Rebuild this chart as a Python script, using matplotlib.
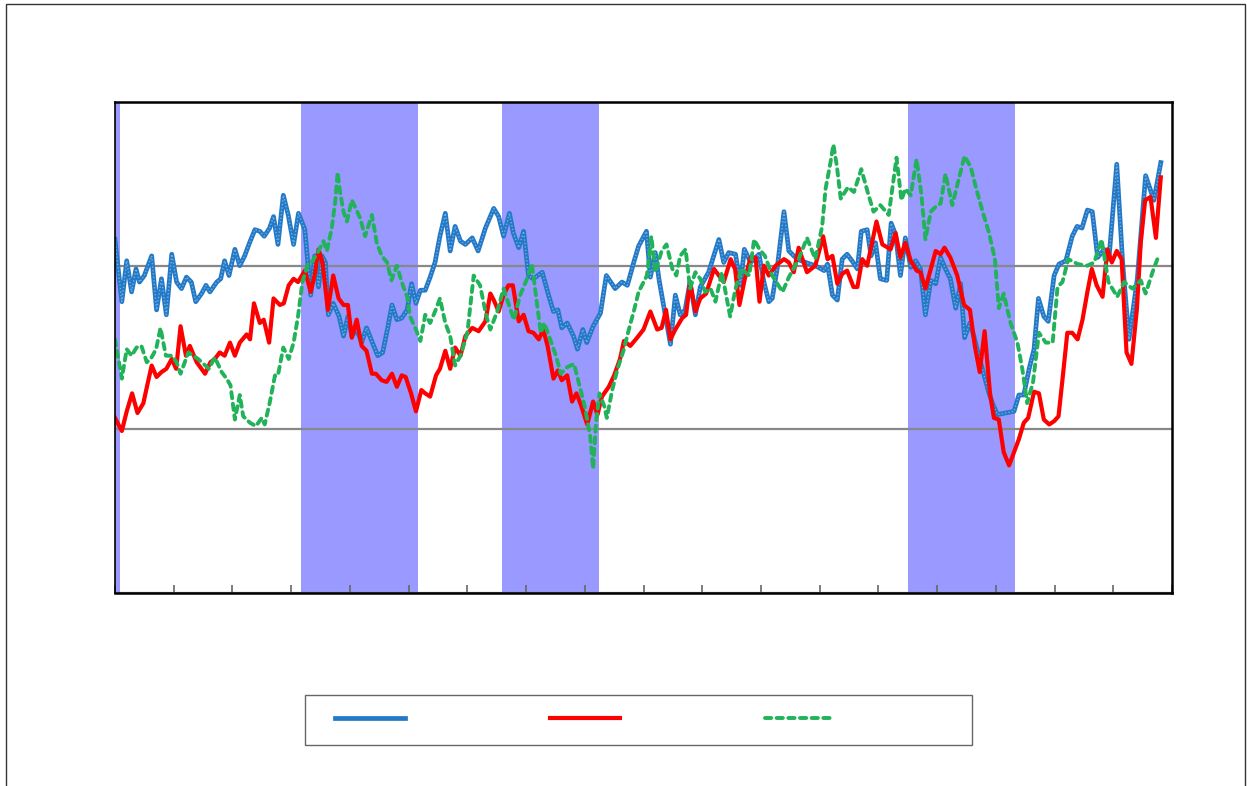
import matplotlib
matplotlib.use("Agg")
import matplotlib.pyplot as plt
from matplotlib.lines import Line2D
from matplotlib.patches import Rectangle

# months since start of the series
blue = [(0, 11.6), (1.4, 7.8), (2.4, 10.3), (3.4, 8.4), (4.3, 9.8), (5, 9.0), (6, 9.4), (7.5, 10.6), (8.5, 7.3),
        (9.5, 9.2), (10.5, 7.0), (11.6, 10.7), (12.6, 9.0), (13.6, 8.6), (14.6, 9.3), (15.6, 9.0), (16.5, 7.8),
        (17.7, 8.3), (18.6, 8.8), (19.4, 8.4), (20.8, 9.0), (21.6, 9.2), (22.4, 10.3), (23.3, 9.4), (24.5, 11.0),
        (25.5, 10.0), (26.5, 10.6), (27.5, 11.4), (28.6, 12.2), (29.6, 12.1), (30.5, 11.8), (31.6, 12.3),
        (32.4, 13.0), (33.3, 11.3), (34.4, 14.3), (35.4, 13.1),
        (36.5, 11.3), (37.5, 13.2), (38.8, 12.2), (40, 8.2), (40.8, 10.6), (41.6, 8.7), (42.3, 10.6), (43, 10.2),
        (43.6, 7.0), (44.6, 7.7), (45.8, 6.9), (46.7, 5.7), (47.6, 6.9), (48.4, 5.7), (49.4, 6.1), (50.4, 5.3),
        (51.4, 6.2), (52.6, 5.3), (53.7, 4.5), (54.7, 4.7), (55.8, 6.3), (56.6, 7.6), (57.6, 6.7), (58.6, 6.8),
        (59.7, 7.3), (60.6, 8.9), (61.5, 7.7), (62.4, 8.5), (63.4, 8.5), (64.4, 9.3), (65.4, 10.2), (66.4, 11.8),
        (67.5, 13.2), (68.5, 10.9), (69.5, 12.4), (70.6, 11.5), (71.6, 11.3),
        (73, 11.7), (74.2, 10.9), (75.7, 12.3), (77.4, 13.5), (78.4, 13.0), (79.4, 11.8), (80.6, 13.2),
        (81.4, 12.0), (82.5, 11.1), (83.5, 12.1), (84.5, 9.4), (85.5, 9.2), (87.3, 9.6), (88.6, 8.2), (89.6, 7.2),
        (90.5, 7.3), (91.3, 6.2), (92.4, 6.5), (93.7, 5.7), (94.5, 4.9), (95.6, 6.1), (96.4, 5.3), (97.7, 6.3),
        (99.2, 7.1), (100.4, 9.4), (102.2, 8.6), (103.6, 9.0), (104.7, 8.8), (106, 10.2), (107, 11.2),
        (108.6, 12.1), (109.4, 9.3), (110.4, 10.8), (111.2, 9.1), (112.5, 6.9), (113.5, 5.2), (114.5, 8.2),
        (115.5, 7.0), (116.5, 7.3), (117.5, 9.0), (118.6, 7.0), (119.6, 8.7), (121.3, 9.6), (123.4, 11.6),
        (124.4, 10.2), (125.4, 10.8), (126.8, 10.7), (127.8, 8.8), (128.6, 11.0), (129.9, 10.2), (131.6, 10.7),
        (132.6, 9.0), (133.6, 7.8), (134.3, 8.0), (135.3, 9.8), (136.7, 13.3), (137.7, 10.9), (139.4, 10.4),
        (141.1, 10.2), (143.1, 10.0),
        (144.9, 9.7), (145.6, 10.1), (146.6, 8.2), (147.6, 7.9), (148.6, 10.4), (149.6, 10.7), (150.6, 10.3),
        (151.7, 9.8), (152.5, 12.1), (153.7, 12.2), (154.5, 10.6), (155.4, 11.4), (156.4, 9.2), (157.7, 9.1),
        (158.6, 12.6), (159.5, 11.9), (160.5, 9.4), (161.5, 11.7), (162.6, 9.9), (163.6, 10.3), (164.6, 9.8),
        (165.6, 7.0), (166.7, 9.1), (167.7, 8.9), (168.7, 10.5), (169.7, 9.8), (170.7, 9.2), (171.8, 7.4),
        (172.8, 8.9), (173.6, 5.6), (174.7, 6.5), (175.5, 5.7), (176.5, 4.5), (178.6, 2.2),
        (179.3, 1.6), (180.3, 0.9), (181.9, 1.0), (183.7, 1.1), (184.7, 2.1), (185.7, 2.1), (186.8, 3.7),
        (187.8, 4.9), (188.7, 8.0), (189.8, 6.9), (190.7, 6.6), (191.9, 9.4), (192.9, 10.1), (194.3, 10.3),
        (195.6, 11.8), (196.6, 12.4), (197.6, 12.3), (198.7, 13.4), (199.7, 13.3), (200.8, 10.5), (202.1, 11.0),
        (203.1, 10.4), (204.7, 16.2), (205.9, 10.2), (207.2, 5.5), (208.9, 9.2), (210.6, 15.5), (212.3, 14.0),
        (213.7, 16.3)]

red = [(0, 0.7), (1.4, -0.1), (2.4, 1.1), (3.5, 2.2), (4.6, 1.0), (5.8, 1.6), (6.6, 2.7), (7.5, 3.9), (8.5, 3.2),
       (9.5, 3.5), (10.5, 3.7), (11.6, 4.3), (12.5, 3.7), (13.4, 6.3), (14.5, 4.5), (15.3, 5.1), (16.7, 4.1),
       (18.4, 3.4), (19.5, 4.1), (20.4, 4.3), (21.4, 4.7), (22.4, 4.5), (23.5, 5.3), (24.5, 4.5), (25.5, 5.3),
       (26.9, 5.8), (27.6, 5.5), (28.4, 7.7), (29.6, 6.5), (30.4, 6.7), (31.5, 5.3), (32.4, 8.0), (33.7, 7.6),
       (34.5, 7.7), (35.5, 8.8),
       (36.5, 9.2), (37.4, 9.0), (38.8, 9.7), (40, 8.4), (40.8, 9.4), (41.6, 11.0), (42.4, 10.2), (43.5, 7.3),
       (44.6, 9.4), (45.7, 8.0), (46.7, 7.6), (47.6, 7.6), (48.4, 5.6), (49.4, 6.7), (50.4, 5.1), (51.4, 4.8),
       (52.5, 3.4), (53.3, 3.4), (54.5, 3.0), (55.5, 2.9), (56.6, 3.4), (57.6, 2.6), (58.6, 3.3), (59.4, 3.2),
       (60.5, 2.2), (61.5, 1.1), (62.6, 2.4), (63.4, 2.2), (64.4, 2.0), (65.6, 3.3), (66.4, 3.7), (67.5, 4.8),
       (68.5, 3.7), (69.5, 5.0), (70.6, 4.5), (71.6, 5.7),
       (73, 6.2), (74.3, 6.0), (75.7, 6.6), (76.7, 8.3), (77.4, 7.9), (78.4, 7.2), (79.4, 8.2), (80.4, 8.8),
       (81.3, 8.8), (82.5, 6.6), (83.5, 7.0), (84.5, 6.0), (85.5, 5.9), (86.6, 5.5), (87.5, 6.1), (88.4, 5.1),
       (89.6, 3.1), (90.5, 3.6), (91.3, 3.0), (92.4, 3.3), (93.4, 1.7), (94.3, 2.2), (95.2, 1.5), (96.5, 0.3),
       (97.7, 1.7), (98.6, 0.9), (99.5, 2.0), (100.9, 2.6), (102, 3.3), (103.2, 4.3), (104, 5.4), (105.3, 5.1),
       (106.7, 5.6),
       (108, 6.1), (109.4, 7.2), (110.8, 6.1), (111.7, 6.2), (112.6, 7.3), (113.5, 5.5), (114.5, 6.1),
       (115.9, 6.8), (116.7, 7.0), (117.5, 9.0), (118.6, 7.2), (119.6, 8.0), (120.8, 8.3), (122.4, 9.8),
       (124.4, 9.0), (125.8, 10.4), (126.7, 9.8), (127.6, 7.6), (128.7, 9.2), (129.9, 10.5), (130.9, 10.5),
       (131.7, 7.8), (132.6, 10.0), (133.6, 9.4), (135, 10.0), (136.7, 10.4), (137.7, 10.2), (138.7, 9.6),
       (139.7, 11.1), (141.4, 9.6), (143.1, 10.0),
       (144.7, 11.8), (145.6, 10.4), (146.6, 10.6), (147.6, 8.9), (148.6, 9.5), (149.6, 9.7), (150.9, 8.7),
       (151.7, 8.7), (152.7, 10.4), (153.7, 10.0), (154.7, 11.4), (155.6, 12.7), (156.8, 11.3), (158.5, 11.0),
       (159.5, 12.0), (160.5, 10.5), (161.5, 11.4), (162.6, 10.3), (163.8, 9.7), (164.6, 9.6), (165.6, 8.6),
       (166.7, 9.8), (167.7, 10.9), (168.7, 10.7), (169.5, 11.1), (170.7, 10.5), (172.1, 9.4), (173.5, 7.6),
       (174.7, 7.3), (175.7, 5.1), (176.7, 3.5), (177.7, 6.0), (178.8, 2.2),
       (179.6, 0.7), (180.6, 0.6), (181.6, -1.4), (182.7, -2.2), (183.7, -1.4), (184.7, -0.6), (185.7, 0.4),
       (186.6, 0.7), (187.8, 2.3), (188.8, 2.2), (189.8, 0.6), (190.9, 0.3), (191.9, 0.5), (192.8, 0.8),
       (193.7, 3.3), (194.6, 5.9), (195.6, 5.9), (196.7, 5.5), (197.7, 6.7), (198.7, 8.4), (199.6, 9.8),
       (200.6, 8.8), (201.8, 8.1), (202.8, 11.0), (203.7, 10.2), (204.7, 10.9), (205.7, 10.4), (206.7, 4.7),
       (207.7, 4.0), (208.8, 7.3), (209.6, 11.4), (210.5, 14.0), (211.6, 14.2), (212.7, 11.7), (213.7, 15.4)]

green = [(0, 5.5), (1.4, 3.1), (2.4, 4.9), (3.4, 4.5), (4.4, 5.0), (5.4, 5.1), (6.5, 4.1), (7.3, 4.3), (8.4, 4.9),
         (9.3, 6.2), (10.4, 4.5), (11.6, 4.5), (12.6, 4.1), (13.4, 3.4), (15, 4.7), (17, 4.3), (19.2, 3.7),
         (20.4, 4.4), (21.8, 3.5), (22.8, 3.1), (23.6, 2.7), (24.5, 0.6), (25.5, 2.1), (26.2, 0.8), (27.6, 0.4),
         (28.8, 0.2), (30, 0.7), (30.6, 0.3), (31.6, 1.6), (32.7, 3.3), (33.3, 3.3), (34.4, 5.0), (35.5, 4.3),
         (36.5, 5.3), (37.4, 6.9), (38.3, 9.0), (39.4, 10.1), (40.4, 10.3), (41.6, 10.9), (42.6, 11.5),
         (43.3, 10.9), (44.3, 12.3), (45, 13.9), (45.5, 15.7), (46, 14.5), (46.7, 13.3), (47.4, 12.7),
         (48.4, 14.0), (49.2, 13.5), (50.1, 12.9), (51.1, 11.8), (52.5, 13.1), (53.5, 11.4), (54.5, 10.6),
         (55.6, 10.2), (56.5, 9.1), (57.6, 10.0), (58.6, 9.0), (59.7, 8.1), (60.3, 6.9), (61.5, 6.1), (62.4, 5.4),
         (63.4, 7.0), (64.4, 6.5), (65.4, 7.2), (66.4, 8.0), (67.5, 6.5), (68.5, 5.7), (69.5, 3.9), (70.6, 4.5),
         (72, 5.9), (73.3, 9.4), (74.6, 8.8), (75.9, 6.9), (76.7, 6.1), (78.1, 7.2), (79.4, 8.6), (80.4, 7.7),
         (81.5, 6.7), (82.8, 8.2), (84.2, 9.2), (85.2, 10.1), (86.1, 8.0), (87, 5.9), (87.7, 6.5), (88.7, 5.7),
         (90.1, 4.5), (91.1, 3.4), (92.4, 3.8), (93.8, 4.0), (94.9, 2.7), (96, 1.4), (97.1, -0.4), (97.7, -2.4),
         (98.3, 0.4), (99, 2.2), (100, 1.4), (100.5, 0.7), (101.6, 2.4), (102.7, 3.7), (104, 4.9), (105, 6.1),
         (106, 7.2), (107, 8.4),
         (108.7, 9.4), (109.6, 11.8), (110.4, 9.6), (111.7, 10.9), (112.7, 11.3), (113.9, 9.8), (114.7, 9.4),
         (115.5, 10.6), (116.6, 11.0), (117.5, 8.6), (118.6, 9.6), (119.6, 9.2), (120.6, 8.4), (121.7, 8.6),
         (122.7, 7.8), (124, 9.6), (125.7, 6.9), (126.8, 8.6), (128, 9.8), (129.6, 9.4), (130.6, 11.6),
         (131.7, 11.0), (132.8, 10.6), (134.3, 9.4), (136.4, 8.4), (137.7, 9.3), (139.7, 10.4), (141.4, 11.7),
         (143.1, 10.4),
         (144.5, 12.4), (145.2, 14.7), (146.2, 16.3), (146.8, 17.4), (147.5, 16.1), (148.3, 14.1), (149.8, 14.8),
         (151, 14.5), (152.5, 15.9), (153.8, 14.5), (155, 13.3), (156.4, 13.7), (158.1, 13.1), (159.7, 16.6),
         (160.7, 14.0), (161.5, 14.7), (162.6, 14.3), (163.8, 16.5), (164.8, 14.3), (165.6, 11.6), (166.7, 13.3),
         (167.7, 13.6), (168.7, 13.8), (169.7, 15.6), (171.1, 13.7), (172.5, 15.4), (173.6, 16.7), (174.9, 16.0),
         (175.9, 14.8), (177.3, 13.3), (178.6, 12.0),
         (179.8, 10.4), (180.6, 7.4), (181.6, 8.3), (183, 6.5), (184.4, 5.3), (185.4, 3.7), (186.4, 1.6),
         (187.6, 2.9), (188.8, 5.9), (190.2, 5.3), (191.6, 5.3), (192.6, 8.7), (193.6, 9.0), (194.8, 10.4),
         (196.7, 10.1), (198.7, 10.0), (200.1, 10.2), (201.6, 11.6), (203, 9.0), (204.8, 8.1), (206.2, 9.0),
         (207.9, 8.6), (209.6, 9.1), (210.6, 8.3), (212, 9.6), (213, 10.4)]

# shaded periods (months)
shade_start = [0, 38, 79, 162]
shade_end = [1, 62, 99, 184]

BLUE = '#2379c6'
RED = '#ff0000'
GREEN = '#22b35a'
SHADE = '#9999ff'

fig = plt.figure(figsize=(12.47, 7.86), dpi=100)
ax = fig.add_axes([0.0922, 0.2455, 0.8477, 0.6247])

for s, e in zip(shade_start, shade_end):
    ax.axvspan(s, e, color=SHADE, lw=0, zorder=0)

bt, bv = zip(*blue)
rt, rv = zip(*red)
gt, gv = zip(*green)

ax.plot(bt, bv, color=BLUE, lw=3.4, zorder=3, solid_joinstyle='round')
ax.plot(bt, bv, color='#74aee3', lw=1.0, ls=(0, (1, 1.5)), zorder=3)
ax.plot(rt, rv, color=RED, lw=3.0, zorder=4, solid_joinstyle='round')
g_line, = ax.plot(gt, gv, color=GREEN, lw=2.8, zorder=5, dash_capstyle='round')
g_line.set_dashes([1.6, 1.4])

ax.set_xlim(0, 216)
ax.set_ylim(-10, 20)
ax.set_xticks(range(0, 217, 12))
ax.set_xticklabels([])
ax.set_yticks([-10, 0, 10, 20])
ax.set_yticklabels([])
ax.tick_params(axis='x', direction='in', length=6, width=1.2, color='#666666')
ax.tick_params(axis='y', length=0)
ax.grid(axis='y', color='#888888', lw=1.6, zorder=1)
ax.set_axisbelow(True)
for sp in ax.spines.values():
    sp.set_color('black')
    sp.set_linewidth(1.8)
    sp.set_zorder(6)
ax.spines['left'].set_linewidth(1.2)

# legend (labels are blank in the reference)
h_blue = Line2D([], [], color=BLUE, lw=3.4)
h_red = Line2D([], [], color=RED, lw=3.0)
h_green = Line2D([], [], color=GREEN, lw=2.8, dashes=[1.6, 1.4], dash_capstyle='round')
fig.legend([h_blue, h_red, h_green], ['', '', ''], ncol=3, loc='center left',
           bbox_to_anchor=(335 / 1247, 1 - 719 / 786), frameon=False, borderpad=0,
           borderaxespad=0, handlelength=5.04, handletextpad=0.0, columnspacing=10.44, fontsize=10)
fig.patches.append(Rectangle((305 / 1247, 1 - 745 / 786), 667 / 1247, 50 / 786,
                             transform=fig.transFigure, fill=False, edgecolor='#666666', lw=1.0))

# outer frame
fig.patches.append(Rectangle((6 / 1247, -0.02), 1239 / 1247, 1.02 - 4 / 786,
                             transform=fig.transFigure, fill=False, edgecolor='#333333', lw=1.0))

fig.savefig('out.png', dpi=100)
